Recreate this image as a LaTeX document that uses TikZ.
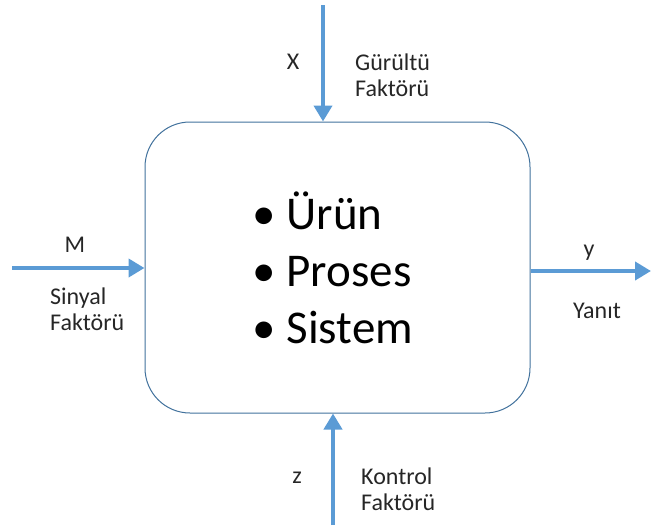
\documentclass[tikz,border=0pt]{standalone}
\usepackage{fontspec}
\setmainfont{Carlito}
\usetikzlibrary{arrows.meta}
\definecolor{flow}{HTML}{5B9BD5}
\definecolor{frame}{HTML}{41719C}
\tikzset{
  flowarrow/.style={draw=flow, line width=4.5pt, -{Triangle[length=16pt,width=18pt]}},
  lbl/.style={font=\fontsize{24}{26}\selectfont, inner sep=0pt, text=black!85},
}
\begin{document}
\begin{tikzpicture}[x=1pt,y=-1pt]
  \useasboundingbox (0,0) rectangle (651,528);
  % central system block
  \node[draw=frame, line width=1pt, rounded corners=45pt, minimum width=385pt,
        minimum height=291pt, inner sep=0pt] (box) at (337.5,267.5) {};
  \node[anchor=west, align=left, inner sep=0pt, font=\fontsize{47}{57}\selectfont]
    (items) at (252,268) {•\hspace{11pt}Ürün\\•\hspace{11pt}Proses\\•\hspace{11pt}Sistem};
  % input/output arrow ends
  \coordinate (noise) at (323,5);
  \coordinate (signal) at (12,268);
  \coordinate (resp) at (651,271);
  \coordinate (ctrl) at (333,525);
  \draw[flowarrow] (noise) -- (noise |- box.north);
  \draw[flowarrow] (signal) -- (signal -| box.west);
  \draw[flowarrow] (resp -| box.east) -- (resp);
  \draw[flowarrow] (ctrl) -- (ctrl |- box.south);
  % labels
  \node[lbl] (xl) at (293,62) {X};
  \node[lbl, anchor=west, align=left] (gl) at (355,75) {Gürültü\\Faktörü};
  \node[lbl] (ml) at (75,245) {M};
  \node[lbl, anchor=west, align=left] (sl) at (50,309) {Sinyal\\Faktörü};
  \node[lbl] (yl) at (589,253) {y};
  \node[lbl] (yn) at (597,311) {Yanıt};
  \node[lbl] (zl) at (297,478) {z};
  \node[lbl, anchor=west, align=left] (kl) at (361,489) {Kontrol\\Faktörü};
\end{tikzpicture}
\end{document}
